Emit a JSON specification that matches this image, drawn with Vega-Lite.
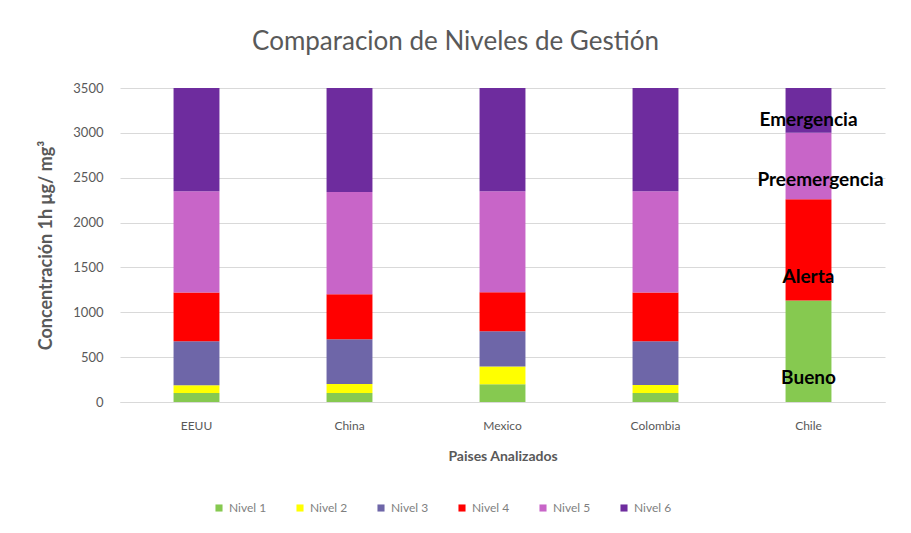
{
  "$schema": "https://vega.github.io/schema/vega-lite/v6.json",
  "width": 765,
  "height": 314,
  "autosize": {"type": "none"},
  "padding": {"left": 120, "top": 88, "right": 26, "bottom": 131},
  "background": "white",
  "title": {
    "text": "Comparacion de Niveles de Gestión",
    "font": "Lato",
    "fontSize": 26,
    "fontWeight": "normal",
    "color": "#595959",
    "anchor": "middle",
    "dx": -47,
    "offset": 27
  },
  "datasets": {
    "niveles": [
      {"pais": "EEUU", "nivel": "Nivel 1", "valor": 100},
      {"pais": "EEUU", "nivel": "Nivel 2", "valor": 88},
      {"pais": "EEUU", "nivel": "Nivel 3", "valor": 489},
      {"pais": "EEUU", "nivel": "Nivel 4", "valor": 543},
      {"pais": "EEUU", "nivel": "Nivel 5", "valor": 1128},
      {"pais": "EEUU", "nivel": "Nivel 6", "valor": 1152},
      {"pais": "China", "nivel": "Nivel 1", "valor": 100},
      {"pais": "China", "nivel": "Nivel 2", "valor": 100},
      {"pais": "China", "nivel": "Nivel 3", "valor": 500},
      {"pais": "China", "nivel": "Nivel 4", "valor": 500},
      {"pais": "China", "nivel": "Nivel 5", "valor": 1140},
      {"pais": "China", "nivel": "Nivel 6", "valor": 1160},
      {"pais": "Mexico", "nivel": "Nivel 1", "valor": 197},
      {"pais": "Mexico", "nivel": "Nivel 2", "valor": 198},
      {"pais": "Mexico", "nivel": "Nivel 3", "valor": 395},
      {"pais": "Mexico", "nivel": "Nivel 4", "valor": 432},
      {"pais": "Mexico", "nivel": "Nivel 5", "valor": 1128},
      {"pais": "Mexico", "nivel": "Nivel 6", "valor": 1150},
      {"pais": "Colombia", "nivel": "Nivel 1", "valor": 100},
      {"pais": "Colombia", "nivel": "Nivel 2", "valor": 89},
      {"pais": "Colombia", "nivel": "Nivel 3", "valor": 488},
      {"pais": "Colombia", "nivel": "Nivel 4", "valor": 544},
      {"pais": "Colombia", "nivel": "Nivel 5", "valor": 1128},
      {"pais": "Colombia", "nivel": "Nivel 6", "valor": 1151},
      {"pais": "Chile", "nivel": "Nivel 1", "valor": 1130},
      {"pais": "Chile", "nivel": "Nivel 4", "valor": 1130},
      {"pais": "Chile", "nivel": "Nivel 5", "valor": 740},
      {"pais": "Chile", "nivel": "Nivel 6", "valor": 500}
    ],
    "etiquetas": [
      {"pais": "Chile", "etiqueta": "Bueno", "valor": 264},
      {"pais": "Chile", "etiqueta": "Alerta", "valor": 1395},
      {"pais": "Chile", "etiqueta": "Emergencia", "valor": 3145}
    ],
    "etiquetaPre": [
      {"pais": "Chile", "etiqueta": "Preemergencia", "valor": 2469}
    ]
  },
  "layer": [
    {
      "data": {"name": "niveles"},
      "mark": {"type": "bar"},
      "encoding": {
        "x": {
          "field": "pais",
          "type": "nominal",
          "sort": ["EEUU", "China", "Mexico", "Colombia", "Chile"],
          "scale": {"paddingInner": 0.7, "paddingOuter": 0.35},
          "axis": {
            "title": "Paises Analizados",
            "labelAngle": 0,
            "labelFont": "Lato",
            "labelFontSize": 12,
            "labelColor": "#595959",
            "labelPadding": 18,
            "ticks": false,
            "domain": true,
            "domainColor": "#D9D9D9",
            "titleFont": "Lato",
            "titleFontSize": 14,
            "titleFontWeight": "bold",
            "titleColor": "#595959",
            "titleY": 58,
            "titleBaseline": "alphabetic"
          }
        },
        "y": {
          "field": "valor",
          "type": "quantitative",
          "stack": "zero",
          "scale": {"domain": [0, 3500], "nice": false},
          "axis": {
            "title": "Concentración 1h μg/ mg³",
            "values": [0, 500, 1000, 1500, 2000, 2500, 3000, 3500],
            "format": "d",
            "labelFont": "Lato",
            "labelFontSize": 13,
            "labelColor": "#595959",
            "labelPadding": 17,
            "ticks": false,
            "domain": false,
            "grid": true,
            "gridColor": "#D9D9D9",
            "titleFont": "Lato",
            "titleFontSize": 18,
            "titleFontWeight": "bold",
            "titleColor": "#595959",
            "titleX": -74,
            "titleY": 157,
            "titleAngle": -90,
            "titleAlign": "center",
            "titleBaseline": "middle"
          }
        },
        "color": {
          "field": "nivel",
          "type": "nominal",
          "scale": {
            "domain": ["Nivel 1", "Nivel 2", "Nivel 3", "Nivel 4", "Nivel 5", "Nivel 6"],
            "range": ["#86C950", "#FFFF00", "#6E66A8", "#FF0000", "#C865C8", "#6E2C9E"]
          },
          "legend": {
            "title": null,
            "orient": "none",
            "direction": "horizontal",
            "legendX": 93,
            "legendY": 414,
            "symbolType": "square",
            "symbolSize": 50,
            "labelFont": "Lato",
            "labelFontSize": 12,
            "labelColor": "#7F7F7F",
            "columnPadding": 27
          }
        },
        "order": {"field": "nivel", "sort": "ascending"}
      }
    },
    {
      "data": {"name": "etiquetas"},
      "mark": {
        "type": "text",
        "font": "Lato",
        "fontSize": 19,
        "fontWeight": "bold",
        "color": "#000000",
        "align": "center",
        "baseline": "middle"
      },
      "encoding": {
        "x": {"field": "pais", "type": "nominal", "sort": ["EEUU", "China", "Mexico", "Colombia", "Chile"]},
        "y": {"field": "valor", "type": "quantitative"},
        "text": {"field": "etiqueta"}
      }
    },
    {
      "data": {"name": "etiquetaPre"},
      "mark": {
        "type": "text",
        "font": "Lato",
        "fontSize": 19,
        "fontWeight": "bold",
        "color": "#000000",
        "align": "center",
        "baseline": "middle",
        "dx": 12
      },
      "encoding": {
        "x": {"field": "pais", "type": "nominal", "sort": ["EEUU", "China", "Mexico", "Colombia", "Chile"]},
        "y": {"field": "valor", "type": "quantitative"},
        "text": {"field": "etiqueta"}
      }
    }
  ],
  "config": {
    "view": {"stroke": null}
  }
}
